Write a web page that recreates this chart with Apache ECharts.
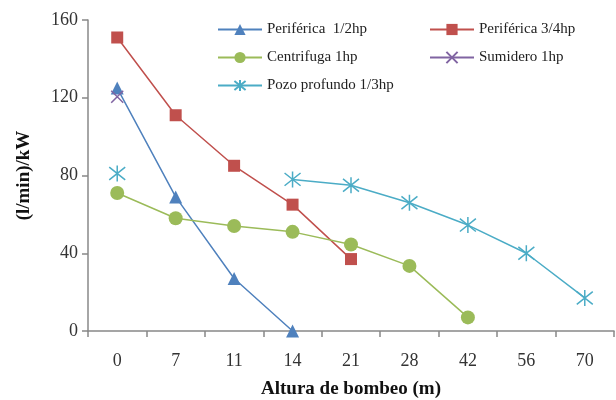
<!DOCTYPE html>
<html><head><meta charset="utf-8">
<script src="https://cdn.jsdelivr.net/npm/echarts@6/dist/echarts.min.js"></script>
<style>html,body{margin:0;padding:0;background:#fff}#c{width:616px;height:400px}</style>
</head><body><div id="c"></div>
<script>
const categories = ['0','7','11','14','21','28','42','56','70'];
const perif12 = [125, 69, 27, 0, null, null, null, null, null];
const perif34 = [151, 111, 85, 65, 37, null, null, null, null];
const centrifuga = [71, 58, 54, 51, 44.5, 33.5, 7, null, null];
const sumidero = [120.5, null, null, null, null, null, null, null, null];
const pozo = [81, null, null, 78, 75, 66, 54.5, 40, 17];
const names = ['Periférica  1/2hp','Periférica 3/4hp','Centrifuga 1hp','Sumidero 1hp','Pozo profundo 1/3hp'];

const font = 'Liberation Serif';
const cross = 'path://M0,0L10,10M10,0L0,10';
const star = 'path://M0,1L10,9M10,1L0,9M5,0L5,10';

function mk(name, data, color, symbol, size, stroke) {
  return {
    name, type: 'line', data, connectNulls: false,
    symbol, symbolSize: size,
    lineStyle: { color, width: 1.5 },
    itemStyle: stroke ? { color: 'rgba(0,0,0,0)', borderColor: color, borderWidth: 1.5 } : { color },
    emphasis: { disabled: true },
    z: 2
  };
}

const legendText = { fontFamily: font, fontSize: 15, color: '#222', lineHeight: 14 };
const chart = echarts.init(document.getElementById('c'));
chart.setOption({
  animation: false,
  backgroundColor: '#fff',
  grid: { left: 88, right: 2, top: 20, bottom: 69, outerBoundsMode: 'none', containLabel: false },
  legend: [
    { orient: 'vertical', left: 217, top: 22, padding: 0, itemWidth: 44, itemHeight: 14, itemGap: 13,
      data: [names[0], names[2], names[4]], textStyle: legendText },
    { orient: 'vertical', left: 429, top: 22, padding: 0, itemWidth: 44, itemHeight: 14, itemGap: 13,
      data: [names[1], names[3]], textStyle: legendText }
  ],
  xAxis: {
    type: 'category', data: categories, boundaryGap: true,
    name: 'Altura de bombeo (m)', nameLocation: 'middle', nameGap: 49,
    nameTextStyle: { fontFamily: font, fontSize: 19, fontWeight: 'bold', color: '#111' },
    axisLine: { lineStyle: { color: '#888', width: 1.5 } },
    axisTick: { show: true, length: 6, lineStyle: { color: '#888', width: 1.5 } },
    axisLabel: { fontFamily: font, fontSize: 18, color: '#333', margin: 21 },
    splitLine: { show: false }
  },
  yAxis: {
    type: 'value', min: 0, max: 160, interval: 40,
    name: '(l/min)/kW', nameLocation: 'middle', nameGap: 54,
    nameTextStyle: { fontFamily: font, fontSize: 19, fontWeight: 'bold', color: '#111' },
    axisLine: { show: true, lineStyle: { color: '#888', width: 1.5 } },
    axisTick: { show: true, length: 6, lineStyle: { color: '#888', width: 1.5 } },
    axisLabel: { fontFamily: font, fontSize: 18, color: '#333', margin: 10 },
    splitLine: { show: false }
  },
  series: [
    mk(names[0], perif12, '#4F81BD', 'triangle', 13, false),
    mk(names[1], perif34, '#C0504D', 'rect', 12, false),
    mk(names[2], centrifuga, '#9BBB59', 'circle', 14, false),
    mk(names[3], sumidero, '#8064A2', cross, 12, true),
    mk(names[4], pozo, '#4BACC6', star, 16, true)
  ]
});
</script></body></html>
